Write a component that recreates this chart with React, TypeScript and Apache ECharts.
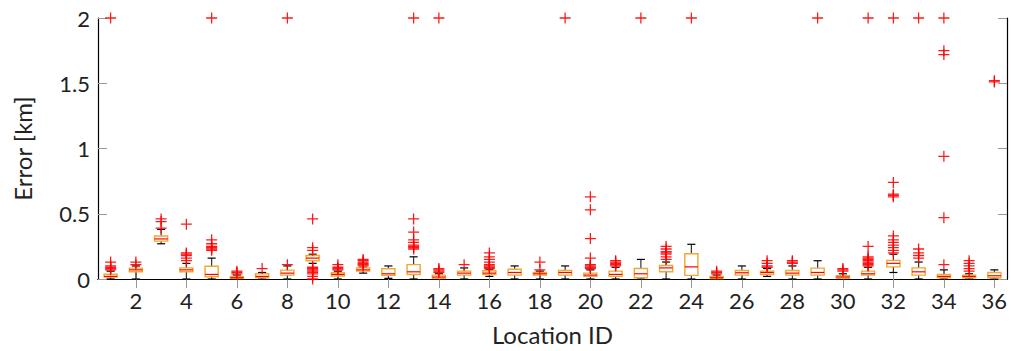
import React, { useEffect, useRef } from "react";
import * as echarts from "echarts";

const categories = Array.from({ length: 36 }, (_, i) => String(i + 1));
const whiskerLow = [0, 0, 0.27, 0, 0, 0, 0, 0, 0.12, 0, 0.045, 0.005, 0, 0, 0, 0.02, 0, 0, 0, 0, 0, 0, 0, 0, 0, 0, 0.02, 0, 0, 0, 0, 0.05, 0, 0, 0, 0];
const q1 = [0.015, 0.055, 0.29, 0.055, 0.017, 0.005, 0.01, 0.03, 0.14, 0.023, 0.06, 0.028, 0.035, 0.005, 0.03, 0.035, 0.03, 0.03, 0.03, 0.02, 0.02, 0.01, 0.055, 0.028, 0.003, 0.03, 0.035, 0.03, 0.03, 0.005, 0.03, 0.093, 0.03, 0.01, 0.01, 0.01];
const median = [0.02, 0.07, 0.307, 0.07, 0.035, 0.01, 0.02, 0.045, 0.16, 0.035, 0.07, 0.04, 0.055, 0.015, 0.045, 0.045, 0.05, 0.04, 0.05, 0.03, 0.035, 0.04, 0.085, 0.093, 0.01, 0.048, 0.05, 0.045, 0.05, 0.015, 0.04, 0.12, 0.055, 0.02, 0.02, 0.025];
const q3 = [0.036, 0.083, 0.33, 0.085, 0.098, 0.02, 0.04, 0.068, 0.18, 0.048, 0.085, 0.078, 0.11, 0.03, 0.06, 0.063, 0.075, 0.05, 0.065, 0.045, 0.06, 0.08, 0.103, 0.194, 0.02, 0.065, 0.06, 0.065, 0.083, 0.025, 0.06, 0.143, 0.085, 0.035, 0.03, 0.05];
const whiskerHigh = [0.06, 0.1, 0.38, 0.12, 0.16, 0.03, 0.05, 0.1, 0.19, 0.06, 0.09, 0.1, 0.17, 0.04, 0.085, 0.07, 0.1, 0.06, 0.1, 0.07, 0.09, 0.15, 0.13, 0.266, 0.03, 0.1, 0.08, 0.1, 0.14, 0.04, 0.09, 0.19, 0.13, 0.07, 0.04, 0.07];
const outliers: number[][] = [
  [0.13, 0.1, 0.09, 0.08, 0.07, 2],
  [0.13, 0.11],
  [0.46, 0.44, 0.39],
  [0.42, 0.2, 0.19, 0.18, 0.16, 0.14],
  [0.3, 0.27, 0.25, 0.24, 0.23, 0.22, 2],
  [0.06, 0.05, 0.04],
  [0.08],
  [0.11, 2],
  [0.46, 0.24, 0.22, 0.09, 0.08, 0.07, 0.06, 0.05, 0.04, 0.02, 0.0],
  [0.11, 0.09, 0.08, 0.07],
  [0.15, 0.14, 0.13, 0.12, 0.11, 0.1],
  [],
  [0.46, 0.36, 0.3, 0.28, 0.26, 0.25, 0.24, 0.23, 2],
  [0.08, 0.07, 0.06, 0.05, 2],
  [0.11],
  [0.2, 0.17, 0.15, 0.13, 0.11, 0.1, 0.09, 0.08],
  [],
  [0.13, 0.07],
  [2],
  [0.63, 0.53, 0.31, 0.16, 0.11, 0.1, 0.09, 0.08],
  [0.14, 0.13, 0.12, 0.11, 0.1],
  [2],
  [0.25, 0.23, 0.21, 0.2, 0.19, 0.17, 0.15],
  [2],
  [0.06, 0.05, 0.04],
  [],
  [0.14, 0.12, 0.1, 0.09],
  [0.14, 0.13, 0.12],
  [2],
  [0.08, 0.07, 0.06],
  [0.25, 0.17, 0.16, 0.15, 0.14, 0.13, 0.12, 0.11, 0.1, 2],
  [0.74, 0.65, 0.64, 0.63, 0.33, 0.3, 0.28, 0.26, 0.24, 0.22, 0.2, 2],
  [0.23, 0.2, 0.18, 0.16, 2],
  [1.75, 1.72, 0.94, 0.47, 0.11, 2],
  [0.14, 0.12, 0.1, 0.08, 0.06],
  [1.52, 1.51],
];
const yTicks = [0, 0.5, 1, 1.5, 2];

const FONT = "Lato";
const BOX_COLOR = "#F0A830";
const CROSS = "path://M0,5.3H12V6.7H0Z M5.3,0H6.7V12H5.3Z";

export default function App() {
  const ref = useRef<HTMLDivElement>(null);
  useEffect(() => {
    if (!ref.current) return;
    const chart = echarts.init(ref.current, null, { renderer: "svg" });
    const boxData = categories.map((_, i) => [i, whiskerLow[i], q1[i], median[i], q3[i], whiskerHigh[i]]);
    const outData: number[][] = [];
    outliers.forEach((arr, i) => arr.forEach((v) => outData.push([i, v])));
    const oddInterval = (idx: number) => idx % 2 === 1;
    chart.setOption({
      animation: false,
      grid: { left: 98, right: 4, top: 18, bottom: 68 },
      xAxis: [
        {
          type: "category",
          data: categories,
          boundaryGap: true,
          name: "Location ID",
          nameLocation: "middle",
          nameGap: 43,
          nameTextStyle: { fontFamily: FONT, fontSize: 24, color: "#222" },
          axisLine: { lineStyle: { color: "#000", width: 1.2 } },
          axisTick: { show: true, inside: true, length: 9, alignWithLabel: true, interval: oddInterval, lineStyle: { color: "#999" } },
          axisLabel: { interval: oddInterval, fontFamily: FONT, fontSize: 22, color: "#222", margin: 10 },
          splitLine: { show: false },
        },
        {
          type: "category",
          data: categories,
          position: "top",
          boundaryGap: true,
          axisLine: { lineStyle: { color: "#000", width: 1.2 } },
          axisTick: { show: true, inside: true, length: 9, alignWithLabel: true, interval: oddInterval, lineStyle: { color: "#999" } },
          axisLabel: { show: false },
        },
      ],
      yAxis: [
        {
          type: "value",
          min: 0,
          max: 2,
          interval: 0.5,
          name: "Error [km]",
          nameLocation: "middle",
          nameGap: 64,
          nameTextStyle: { fontFamily: FONT, fontSize: 24, color: "#222" },
          axisLine: { show: true, lineStyle: { color: "#000", width: 1.2 } },
          axisTick: { show: true, inside: true, length: 9, lineStyle: { color: "#999" } },
          axisLabel: { fontFamily: FONT, fontSize: 22, color: "#222", margin: 8, formatter: (v: number) => (yTicks.includes(v) ? String(v) : "") },
          splitLine: { show: false },
        },
        {
          type: "value",
          min: 0,
          max: 2,
          interval: 0.5,
          position: "right",
          axisLine: { show: true, lineStyle: { color: "#000", width: 1.2 } },
          axisTick: { show: true, inside: true, length: 9, lineStyle: { color: "#999" } },
          axisLabel: { show: false },
          splitLine: { show: false },
        },
      ],
      series: [
        {
          type: "custom",
          xAxisIndex: 0,
          yAxisIndex: 0,
          z: 3,
          data: boxData,
          renderItem: (params: any, api: any) => {
            const idx = api.value(0);
            const lo = api.coord([idx, api.value(1)]);
            const b1 = api.coord([idx, api.value(2)]);
            const md = api.coord([idx, api.value(3)]);
            const b3 = api.coord([idx, api.value(4)]);
            const hi = api.coord([idx, api.value(5)]);
            const band = api.size([1, 0])[0];
            const hw = band * 0.26;
            const cw = band * 0.16;
            const x = lo[0];
            const wStyle = { stroke: "#333", lineWidth: 1.2 };
            return {
              type: "group",
              children: [
                { type: "line", shape: { x1: x, y1: lo[1], x2: x, y2: b1[1] }, style: wStyle },
                { type: "line", shape: { x1: x, y1: b3[1], x2: x, y2: hi[1] }, style: wStyle },
                { type: "line", shape: { x1: x - cw, y1: lo[1], x2: x + cw, y2: lo[1] }, style: { stroke: "#000", lineWidth: 1.2 } },
                { type: "line", shape: { x1: x - cw, y1: hi[1], x2: x + cw, y2: hi[1] }, style: { stroke: "#000", lineWidth: 1.2 } },
                { type: "rect", shape: { x: x - hw, y: b3[1], width: hw * 2, height: b1[1] - b3[1] }, style: { fill: "#fff", stroke: BOX_COLOR, lineWidth: 1.4 } },
                { type: "line", shape: { x1: x - hw, y1: md[1], x2: x + hw, y2: md[1] }, style: { stroke: "#FF0000", lineWidth: 1.2 } },
              ],
            };
          },
        },
        {
          type: "scatter",
          xAxisIndex: 0,
          yAxisIndex: 0,
          z: 10,
          clip: false,
          symbol: CROSS,
          symbolSize: 11,
          itemStyle: { color: "#FF0000", opacity: 0.9 },
          data: outData,
        },
      ],
    });
    return () => chart.dispose();
  }, []);
  return <div ref={ref} style={{ width: 1011, height: 351, position: "absolute", left: 0, top: 0 }} />;
}
